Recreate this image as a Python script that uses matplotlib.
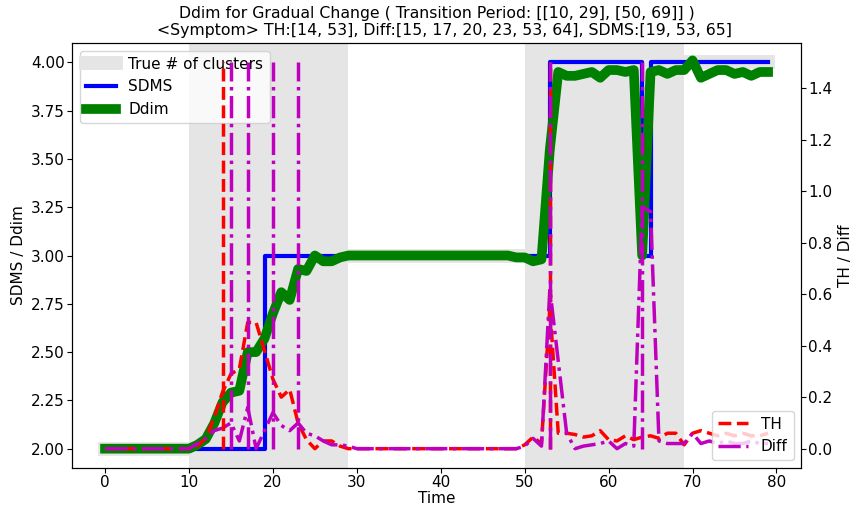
import numpy as np
import matplotlib
matplotlib.use("Agg")
import matplotlib.pyplot as plt

plt.rcParams['font.size'] = 11
plt.rcParams['xtick.major.pad'] = 1.5
plt.rcParams['ytick.major.pad'] = 1.5

nan = np.nan
time = np.arange(80)

# true number of clusters (hidden under the transition bands)
true_k = [2]*11 + [nan]*18 + [3]*22 + [nan]*18 + [4]*11
transitions = [[10, 29], [50, 69]]

sdms = [2]*19 + [3]*34 + [4]*11 + [3] + [4]*15

ddim = [2.0, 2.0, 2.0, 2.0, 2.0, 2.0, 2.0, 2.0, 2.0, 2.0,
        2.0, 2.02, 2.05, 2.13, 2.24, 2.29, 2.30, 2.50, 2.50, 2.57,
        2.70, 2.81, 2.77, 2.93, 2.92, 3.0, 2.97, 2.97, 2.99, 3.0,
        3.0, 3.0, 3.0, 3.0, 3.0, 3.0, 3.0, 3.0, 3.0, 3.0,
        3.0, 3.0, 3.0, 3.0, 3.0, 3.0, 3.0, 3.0, 3.0, 2.99,
        2.99, 2.97, 2.98, 3.55, 3.95, 3.93, 3.93, 3.94, 3.95, 3.92,
        3.96, 3.96, 3.95, 3.96, 3.0, 3.95, 3.96, 3.94, 3.96, 3.96,
        4.01, 3.92, 3.94, 3.96, 3.96, 3.94, 3.95, 3.93, 3.95, 3.95]

th = [0.0, 0.0, 0.0, 0.0, 0.0, 0.0, 0.0, 0.0, 0.0, 0.0,
      0.0, 0.01, 0.04, 0.12, 0.22, 0.29, 0.31, 0.49, 0.49, 0.38,
      0.27, 0.20, 0.23, 0.10, 0.035, 0.0, 0.03, 0.03, 0.01, 0.0,
      0.0, 0.0, 0.0, 0.0, 0.0, 0.0, 0.0, 0.0, 0.0, 0.0,
      0.0, 0.0, 0.0, 0.0, 0.0, 0.0, 0.0, 0.0, 0.0, 0.0,
      0.015, 0.045, 0.02, 0.55, 0.06, 0.06, 0.055, 0.045, 0.05, 0.07,
      0.035, 0.03, 0.05, 0.035, 0.045, 0.05, 0.04, 0.06, 0.06, 0.015,
      0.06, 0.07, 0.06, 0.05, 0.06, 0.05, 0.06, 0.05, 0.05, 0.06]

diff = [0.0, 0.0, 0.0, 0.0, 0.0, 0.0, 0.0, 0.0, 0.0, 0.0,
        0.0, 0.02, 0.04, 0.07, 0.08, 0.10, 0.03, 0.16, 0.0, 0.07,
        0.14, 0.09, 0.07, 0.10, 0.06, 0.05, 0.03, 0.015, 0.015, 0.01,
        0.0, 0.0, 0.0, 0.0, 0.0, 0.0, 0.0, 0.0, 0.0, 0.0,
        0.0, 0.0, 0.0, 0.0, 0.0, 0.0, 0.0, 0.0, 0.0, 0.0,
        0.01, 0.04, 0.01, 0.62, 0.34, 0.06, 0.0, 0.01, 0.015, 0.02,
        0.03, 0.0, 0.02, 0.01, 0.94, 0.92, 0.03, 0.02, 0.02, 0.02,
        0.06, 0.02, 0.03, 0.02, 0.03, 0.02, 0.02, 0.03, 0.02, 0.02]

th_symptom = [14, 53]
diff_symptom = [15, 17, 20, 23, 53, 64]
sdms_symptom = [19, 53, 65]

fig = plt.figure(figsize=(8.56, 5.07), dpi=100)
ax1 = fig.add_axes([0.084, 1 - 468/507, 0.852, (468 - 43)/507])

for a, b in transitions:
    ax1.axvspan(a, b, color='#e5e5e5', lw=0)
ax1.plot(time, true_k, color='#e5e5e5', lw=10, label='True # of clusters')
ax1.step(time, sdms, where='post', color='b', lw=3, label='SDMS')
ax1.plot(time, ddim, color='g', lw=7, label='Ddim')
ax1.set_xlim(-3.95, 82.95)
ax1.set_ylim(1.9, 4.1)
ax1.set_yticks(np.arange(2.0, 4.01, 0.25))
ax1.yaxis.set_major_formatter(matplotlib.ticker.FormatStrFormatter('%.2f'))
ax1.set_xlabel('Time', labelpad=1)
ax1.set_ylabel('SDMS / Ddim')
ax1.legend(loc='upper left')

ax2 = ax1.twinx()
ax2.plot(time, th, 'r--', lw=2.5, label='TH')
ax2.plot(time, diff, 'm-.', lw=2.5, label='Diff')
ax2.vlines(th_symptom, 0, 1.5, colors='r', linestyles='--', lw=2.5)
ax2.vlines(diff_symptom, 0, 1.5, colors='m', linestyles='-.', lw=2.5)
ax2.set_ylim(-0.075, 1.575)
ax2.set_ylabel('TH / Diff')
ax2.legend(loc='lower right')

ax1.set_title('Ddim for Gradual Change ( Transition Period: ' + str(transitions) + ' )\n'
              + '   <Symptom> TH:' + str(th_symptom) + ', Diff:' + str(diff_symptom)
              + ', SDMS:' + str(sdms_symptom), fontsize=11.3, pad=6, linespacing=1.1)

fig.savefig('out.png', dpi=100)
